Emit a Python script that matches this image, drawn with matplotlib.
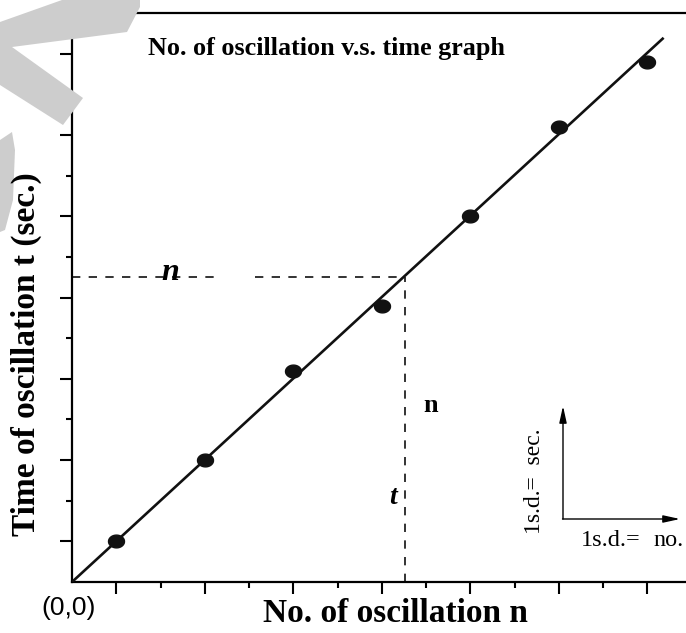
import matplotlib
matplotlib.use("Agg")
import matplotlib.pyplot as plt
import numpy as np
from matplotlib.path import Path
from matplotlib.patches import Polygon

# ---- data ----
n_values = [1, 3, 5, 7, 9, 11, 13]
t_values = [1.0, 3.0, 5.19, 6.8, 9.0, 11.2, 12.8]
fit_x = [0, 13.37]
fit_y = [0, 13.39]
guide_n = 7.52
guide_t = 7.5
gap = [3.28, 4.14]
title = "No. of oscillation v.s. time graph"
xlabel = "No. of oscillation n"
ylabel = "Time of oscillation t (sec.)"

W, H = 686, 633
fig = plt.figure(figsize=(W / 100, H / 100), dpi=100)
fig.patch.set_facecolor("white")

def fx(px):
    return px / W

def fy(py):
    return 1 - py / H

# watermark (gray chevron) behind everything
wm1 = [(62, 0), (140, 0), (140, 7), (127, 32), (12, 47), (83, 98), (63, 125), (0, 85), (0, 22)]
wm2 = [(0, 140), (12, 132), (15, 150), (13, 200), (5, 230), (0, 232)]
for poly in (wm1, wm2):
    fig.patches.append(Polygon([(fx(a), fy(b)) for a, b in poly], closed=True,
                               transform=fig.transFigure, facecolor="#cdcdcd",
                               edgecolor="none", zorder=0))

ax = fig.add_axes([72 / W, 51 / H, (W - 72) / W, 569 / H])
ax.patch.set_alpha(0)
ax.set_xlim(0, (W - 72) / 44.25)
ax.set_ylim(0, 14)

for s in ["left", "bottom", "top"]:
    ax.spines[s].set_linewidth(1.6)
ax.spines["right"].set_visible(False)

ax.set_xticks(n_values)
ax.set_xticks([2, 4, 6, 8, 10, 12], minor=True)
ax.set_yticks([1, 3, 5, 7, 9, 11, 13])
ax.set_yticks([2, 4, 6, 8, 10, 12], minor=True)
ax.tick_params(which="major", direction="out", length=8.5, width=1.5, labelbottom=False, labelleft=False)
ax.tick_params(which="minor", direction="out", length=4, width=1.5)

# ellipse marker
theta = np.linspace(0, 2 * np.pi, 60)
ell = Path(np.column_stack([np.cos(theta), 0.8 * np.sin(theta)]))

ax.plot(fit_x, fit_y, color="#111111", lw=1.9, zorder=3, solid_capstyle="butt")
ax.plot(n_values, t_values, linestyle="none", marker=ell, markersize=11.5,
        color="#111111", zorder=4)

dash = dict(color="#111111", lw=1.2, dashes=(5, 5), zorder=2)
ax.plot([0, gap[0]], [guide_t, guide_t], **dash)
ax.plot([gap[1], guide_n], [guide_t, guide_t], **dash)
ax.plot([guide_n, guide_n], [0, guide_t], **dash)

serif = "Liberation Serif"
fig.text(fx(327), fy(48), title, family=serif, weight="bold", fontsize=18.8,
         ha="center", va="center")
fig.text(fx(395), fy(613), xlabel, family=serif, weight="bold", fontsize=24,
         ha="center", va="center")
fig.text(fx(26), fy(354), ylabel, family=serif, weight="bold", fontsize=24,
         ha="center", va="center", rotation=90)
fig.text(fx(69), fy(608), "(0,0)", family="Liberation Sans", fontsize=19,
         ha="center", va="center")

fig.text(fx(170), fy(273), "n", family=serif, weight="bold", style="italic",
         fontsize=23, ha="center", va="center")
fig.text(fx(431), fy(406), "n", family=serif, weight="bold", fontsize=19,
         ha="center", va="center")
fig.text(fx(393), fy(497), "t", family=serif, weight="bold", style="italic",
         fontsize=20, ha="center", va="center")

# scale indicator arrows
ax.annotate("", xy=(fx(563), fy(406)), xytext=(fx(563), fy(519)),
            xycoords="figure fraction", textcoords="figure fraction",
            arrowprops=dict(arrowstyle="-|>,head_length=1.0,head_width=0.22", lw=1.0, color="black",
                            shrinkA=0, shrinkB=0))
ax.annotate("", xy=(fx(680), fy(519)), xytext=(fx(562.5), fy(519)),
            xycoords="figure fraction", textcoords="figure fraction",
            arrowprops=dict(arrowstyle="-|>,head_length=1.0,head_width=0.22", lw=1.0, color="black",
                            shrinkA=0, shrinkB=0))
fig.text(fx(535), fy(481), "1s.d.=  sec.", family=serif, fontsize=17,
         ha="center", va="center", rotation=90)
fig.text(fx(581), fy(540), "1s.d.=", family=serif, fontsize=17.5,
         ha="left", va="center")
fig.text(fx(684), fy(540), "no.", family=serif, fontsize=17.5,
         ha="right", va="center")

fig.savefig("out.png", dpi=100, facecolor="white")
